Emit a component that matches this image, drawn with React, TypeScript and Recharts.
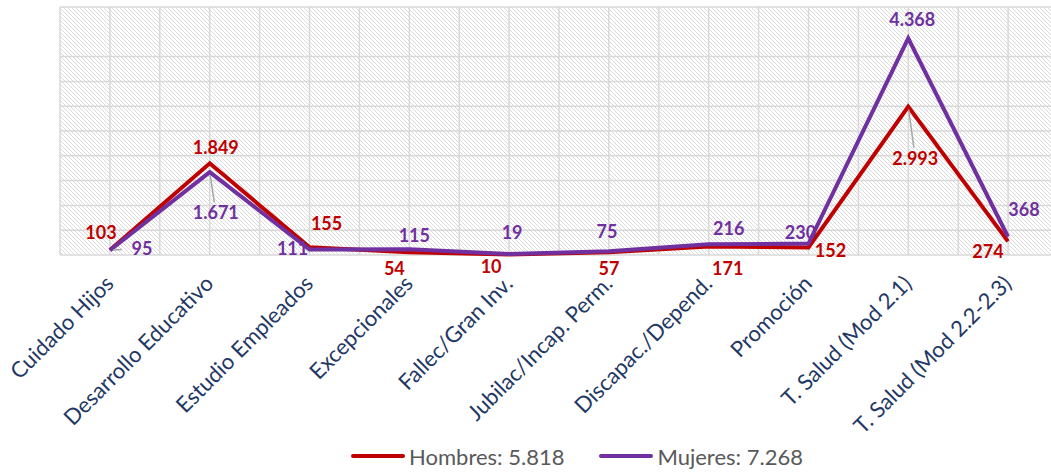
import React from "react";
import { LineChart, Line, XAxis, YAxis, CartesianGrid, Legend, LabelList } from "recharts";

const categorias = [
    "Cuidado Hijos",
    "Desarrollo Educativo",
    "Estudio Empleados",
    "Excepcionales",
    "Fallec/Gran Inv.",
    "Jubilac/Incap. Perm.",
    "Discapac./Depend.",
    "Promoción",
    "T. Salud (Mod 2.1)",
    "T. Salud (Mod 2.2-2.3)",
];
const hombres = [103, 1849, 155, 54, 10, 57, 171, 152, 2993, 274];
const mujeres = [95, 1671, 111, 115, 19, 75, 216, 230, 4368, 368];
const yTicks = [0, 500, 1000, 1500, 2000, 2500, 3000, 3500, 4000, 4500, 5000];

const ROJO = "#C00000";
const MORADO = "#7030A0";
const FUENTE = "Lato, 'Open Sans', sans-serif";

// desplazamiento de cada etiqueta respecto a su punto [dx, dy, guia]
const posHombres: [number, number, boolean][] = [
    [-9, -18, false], [6, -16, false], [17, -24, false], [-15, 16, false], [-18, 11, false],
    [0, 16, false], [19, 21, false], [22, 3, false], [7, 51, true], [-20, 10, false],
];
const posMujeres: [number, number, boolean][] = [
    [32, -2, true], [6, 40, true], [-17, -1, false], [5, -14, false], [3, -22, false],
    [-2, -20, false], [20, -16, false], [-8, -12, false], [4, -19, false], [16, -28, false],
];

const data = categorias.map((cat, i) => ({ cat, hombres: hombres[i], mujeres: mujeres[i] }));

const formato = (v: number) => String(v).replace(/\B(?=(\d{3})+(?!\d))/g, ".");
const total = (arr: number[]) => arr.reduce((a, b) => a + b, 0);

const makeLabel = (pos: [number, number, boolean][], color: string) => (props: any) => {
    const { x, y, value, index } = props;
    const [dx, dy, guia] = pos[index] || [0, -15, false];
    const lx = x + dx;
    const ly = y + dy;
    let guiaLine = null;
    if (guia) {
        // linea guia gris hasta la etiqueta
        const len = Math.hypot(dx, dy);
        const ux = dx / len;
        const uy = dy / len;
        const fin = Math.abs(dx) > Math.abs(dy) ? len - 20 : len - 10;
        guiaLine = <line x1={x + ux * 3} y1={y + uy * 3} x2={x + ux * fin} y2={y + uy * fin} stroke="#A6A6A6" strokeWidth={1.5} />;
    }
    return (
        <g>
            {guiaLine}
            <text x={lx} y={ly} textAnchor="middle" dominantBaseline="central" fill={color} fontFamily={FUENTE} fontWeight={700} fontSize={18}>
                {formato(value)}
            </text>
        </g>
    );
};

const CategoriaTick = (props: any) => {
    const { x, y, payload } = props;
    return (
        <g transform={`translate(${x + 5},${y + 22})`}>
            <text x={0} y={0} textAnchor="end" transform="rotate(-45)" fill="#1F3864" fontFamily={FUENTE} fontSize={22}>
                {payload.value}
            </text>
        </g>
    );
};

const Leyenda = () => (
    <div style={{ display: "flex", justifyContent: "center", alignItems: "center", gap: 35, height: 30, paddingLeft: 36, fontFamily: FUENTE, fontSize: 22, color: "#595959" }}>
        {[
            { nombre: "Hombres", color: ROJO, arr: hombres },
            { nombre: "Mujeres", color: MORADO, arr: mujeres },
        ].map((s) => (
            <span key={s.nombre} style={{ display: "flex", alignItems: "center" }}>
                <span style={{ display: "inline-block", width: 54, height: 4, borderRadius: 2, background: s.color, marginRight: 4 }} />
                {s.nombre}: {formato(total(s.arr))}
            </span>
        ))}
    </div>
);

export default function App() {
    return (
        <div style={{ position: "absolute", left: 0, top: 0, width: 1051, height: 473, overflow: "hidden", background: "#fff" }}>
            <svg width={0} height={0} style={{ position: "absolute" }}>
                <defs>
                    <pattern id="rayado" patternUnits="userSpaceOnUse" width={4} height={4}>
                        <path d="M0,0 L4,4 M-1,3 L1,5 M3,-1 L5,1" stroke="#DADADA" strokeWidth={1} />
                    </pattern>
                </defs>
            </svg>
            <LineChart width={1070} height={473} data={data} margin={{ top: 7, right: 12, left: 60, bottom: 0 }}>
                <CartesianGrid
                    fill="url(#rayado)"
                    stroke="#D9D9D9"
                    strokeWidth={1.5}
                    verticalCoordinatesGenerator={({ offset }: any) =>
                        Array.from({ length: 21 }, (_, i) => offset.left + (i * offset.width) / 20)
                    }
                />
                <XAxis dataKey="cat" interval={0} padding={{ left: 50, right: 50 }} axisLine={false} tickLine={false} height={188} tick={<CategoriaTick />} />
                <YAxis hide domain={[0, 5000]} ticks={yTicks} />
                <Legend verticalAlign="bottom" content={<Leyenda />} wrapperStyle={{ bottom: 2 }} />
                <Line type="linear" dataKey="hombres" stroke={ROJO} strokeWidth={4} dot={false} isAnimationActive={false}>
                    <LabelList dataKey="hombres" content={makeLabel(posHombres, ROJO)} />
                </Line>
                <Line type="linear" dataKey="mujeres" stroke={MORADO} strokeWidth={4} dot={false} isAnimationActive={false}>
                    <LabelList dataKey="mujeres" content={makeLabel(posMujeres, MORADO)} />
                </Line>
            </LineChart>
        </div>
    );
}
